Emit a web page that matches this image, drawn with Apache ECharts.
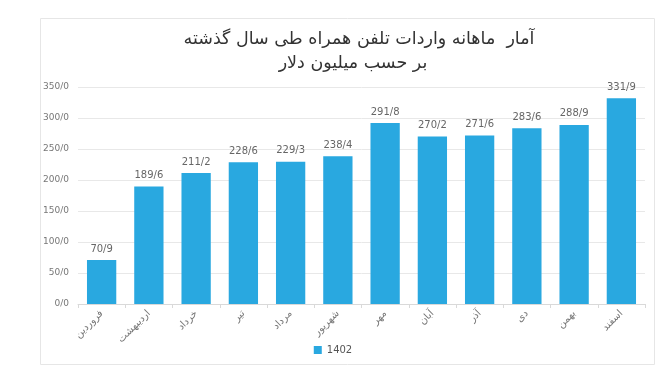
<!DOCTYPE html>
<html><head><meta charset="utf-8">
<script src="https://cdn.jsdelivr.net/npm/echarts@6/dist/echarts.min.js"></script>
<style>html,body{margin:0;padding:0;background:#fff;}#c{width:666px;height:383px;}</style>
</head><body><div id="c"></div>
<script>
const titleLine1 = 'آمار  ماهانه واردات تلفن همراه طی سال گذشته';
const titleLine2 = 'بر حسب میلیون دلار';
const categories = ['فروردین','اردیبهشت','خرداد','تیر','مرداد','شهریور','مهر','آبان','آذر','دی','بهمن','اسفند'];
const values = [70.9, 189.6, 211.2, 228.6, 229.3, 238.4, 291.8, 270.2, 271.6, 283.6, 288.9, 331.9];
const seriesName = '1402';
const yMin = 0, yMax = 350, yStep = 50;

const fmt = v => v.toFixed(1).replace('.', '/');
const chart = echarts.init(document.getElementById('c'), null, {renderer:'canvas'});
chart.setOption({
  backgroundColor:'#fff',
  animation:false,
  graphic:[{type:'rect', shape:{x:40.5,y:18.5,width:614,height:346}, style:{fill:'none', stroke:'#e6e6e6', lineWidth:1}, z:-1}],
  title:[
    {text:titleLine1, left:354, top:25, textAlign:'center', textStyle:{fontFamily:'DejaVu Sans', fontSize:17.5, fontWeight:'normal', color:'#333'}},
    {text:titleLine2, left:348, top:49, textAlign:'center', textStyle:{fontFamily:'DejaVu Sans', fontSize:17.5, fontWeight:'normal', color:'#333'}}
  ],
  grid:{left:78, right:21, top:87, bottom:79, containLabel:false},
  legend:{bottom:23, left:'center', itemWidth:8, itemHeight:8, icon:'rect', itemGap:4, textStyle:{fontFamily:'DejaVu Sans', fontSize:10, color:'#555'}, data:[seriesName]},
  xAxis:{type:'category', data:categories,
    axisLine:{lineStyle:{color:'#d9d9d9'}},
    axisTick:{show:true, length:4, lineStyle:{color:'#d9d9d9'}},
    axisLabel:{rotate:45, fontFamily:'DejaVu Sans', fontSize:10, color:'#777', margin:8}},
  yAxis:{type:'value', min:yMin, max:yMax, interval:yStep,
    axisLine:{show:false}, axisTick:{show:false},
    splitLine:{lineStyle:{color:'#e8e8e8'}},
    axisLabel:{formatter:v=>fmt(v), fontFamily:'DejaVu Sans', fontSize:9, color:'#777', margin:9}},
  series:[{name:seriesName, type:'bar', data:values, barWidth:'62%', itemStyle:{color:'#29a8e0'},
    label:{show:true, position:'top', formatter:p=>fmt(p.value), fontFamily:'DejaVu Sans', fontSize:10, color:'#666', distance:6}}]
});
</script></body></html>
